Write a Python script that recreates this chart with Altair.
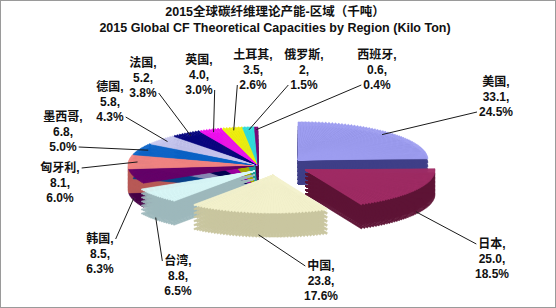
import math
import numpy as np
import pandas as pd
import altair as alt

# ---------------- data ----------------
regions = ["美国", "日本", "中国", "台湾", "韩国", "匈牙利", "墨西哥",
           "德国", "法国", "英国", "土耳其", "俄罗斯", "西班牙"]
capacity_text = ["33.1", "25.0", "23.8", "8.8", "8.5", "8.1", "6.8",
                 "5.8", "5.2", "4.0", "3.5", "2", "0.6"]
capacity = [float(v) for v in capacity_text]
title_lines = ["2015全球碳纤维理论产能-区域（千吨）",
               "2015 Global CF Theoretical Capacities by Region (Kilo Ton)"]

# ---------------- styles / layout ----------------
TOP_COLORS = ["#9D9DF0", "#A02C64", "#F3F1CC", "#D8F6F6", "#680068", "#F28482",
              "#0C64C8", "#C6C6EE", "#06067E", "#EE10EE", "#EEEE10", "#30DCDC", "#7A0A7A"]
SIDE_COLORS = ["#3F3F88", "#5E1436", "#C9C6A0", "#9DB8BC", "#470047", "#B85A58",
               "#07428A", "#8A8AB4", "#000050", "#A000A0", "#A8A800", "#1C9C9C", "#4A004A"]
CX, CY = 258, 165          # centre of the (non-exploded) pie
A, B = 130, 38             # half-axes of the tilted pie
DEPTH = 24                 # thickness of the 3-D pie
STEP = 1.5                 # angular step of the sub-wedges
EXPLODE = {"美国": (40, -5), "日本": (47, 5), "中国": (15, 10), "台湾": (-3, 6)}
LABEL_XY = {"美国": (496, 97), "日本": (492, 259), "中国": (321, 281), "台湾": (178, 276),
            "韩国": (100, 254), "匈牙利": (60, 183), "墨西哥": (63, 132), "德国": (110, 102),
            "法国": (143, 78), "英国": (199, 75), "土耳其": (253, 70), "俄罗斯": (304, 70),
            "西班牙": (377, 70)}
DRAW_ORDER = ["韩国", "匈牙利", "墨西哥", "德国", "法国", "英国", "土耳其", "俄罗斯",
              "西班牙", "美国", "台湾", "日本", "中国"]
LINE_H = 15
TITLE_Y = [12, 28]
FONT = "Liberation Sans, Arial, Noto Sans CJK SC"

total = sum(capacity)
cum = np.concatenate([[0.0], np.cumsum(capacity)])


def screen_angle(phi):
    if phi >= 360 - 1e-9:
        return 360.0
    p = math.radians(phi)
    s = math.degrees(math.atan2(A * math.sin(p), B * math.cos(p)))
    return s + 360 if s < 0 else s


def rim_radius(phi):
    p = math.radians(phi)
    return math.hypot(A * math.sin(p), B * math.cos(p))


def text_width(s):
    w = 0.0
    for c in s:
        if ord(c) > 0x2E80:
            w += 12
        elif c.isdigit():
            w += 6.67
        elif c == "%":
            w += 10.67
        else:
            w += 3.34
    return w


wedges = []
for i, name in enumerate(regions):
    f0, f1 = 360 * cum[i] / total, 360 * cum[i + 1] / total
    n = max(1, math.ceil((f1 - f0) / STEP))
    ex, ey = EXPLODE.get(name, (0, 0))
    for k in range(n):
        pa = f0 + (f1 - f0) * k / n
        pb = f0 + (f1 - f0) * (k + 1) / n
        ta, tb = screen_angle(pa), screen_angle(pb)
        if tb < ta:
            tb += 360
        wedges.append(dict(region=name, t0=ta, t1=tb, r=rim_radius((pa + pb) / 2),
                           cx=CX + ex, cy=CY + ey, order=DRAW_ORDER.index(name)))
top_df = pd.DataFrame(wedges).sort_values("order", kind="stable")

side_parts = []
for off in range(4, DEPTH + 1, 4):
    d = top_df.copy()
    d["cy"] = d["cy"] + off
    d["off"] = off
    side_parts.append(d)
side_df = pd.concat(side_parts).sort_values(["order", "off"], kind="stable")

labels = []
for i, name in enumerate(regions):
    f0, f1 = 360 * cum[i] / total, 360 * cum[i + 1] / total
    pm = (f0 + f1) / 2
    p = math.radians(pm)
    ex, ey = EXPLODE.get(name, (0, 0))
    front = 90 < pm < 270
    k = 1.0 if front else 0.93
    sx = CX + ex + k * A * math.sin(p)
    sy = CY + ey - k * B * math.cos(p) + (DEPTH - 2 if front else 0)
    lx, ly = LABEL_XY[name]
    pct = f"{100 * capacity[i] / total:.1f}%"
    lines = [f"{name},", f"{capacity_text[i]},", pct]
    use_top = sy < ly
    w = text_width(lines[0] if use_top else lines[2])
    endx = lx - w / 2 - 2 if sx < lx else lx + w / 2 + 2
    endy = ly - LINE_H if use_top else ly + LINE_H
    labels.append(dict(region=name, label="\n".join(lines), lx=lx, ly=ly,
                       first_y=ly - LINE_H, sx=sx, sy=sy, ex=endx, ey=endy))
label_df = pd.DataFrame(labels)
title_df = pd.DataFrame({"title": title_lines, "ty": TITLE_Y})

theta = alt.Theta("t0:Q", scale=alt.Scale(domain=[0, 360], range=[0, 2 * math.pi], nice=False, zero=False), stack=None)
theta2 = alt.Theta2("t1:Q")
radius = alt.Radius("r:Q", scale=None)
xc = alt.X("cx:Q", scale=None)
yc = alt.Y("cy:Q", scale=None)

sides = alt.Chart(side_df).mark_arc(strokeWidth=0.6).encode(
    theta=theta, theta2=theta2, radius=radius, x=xc, y=yc,
    fill=alt.Fill("region:N", scale=alt.Scale(domain=regions, range=SIDE_COLORS), legend=None),
    stroke=alt.Stroke("region:N", scale=alt.Scale(domain=regions, range=SIDE_COLORS), legend=None),
)
tops = alt.Chart(top_df).mark_arc(strokeWidth=0.6).encode(
    theta=theta, theta2=theta2, radius=radius, x=xc, y=yc,
    fill=alt.Fill("region:N", scale=alt.Scale(domain=regions, range=TOP_COLORS), legend=None),
    stroke=alt.Stroke("region:N", scale=alt.Scale(domain=regions, range=TOP_COLORS), legend=None),
)
leaders = alt.Chart(label_df).mark_rule(color="#1a1a1a", strokeWidth=1).encode(
    x=alt.X("sx:Q", scale=None), y=alt.Y("sy:Q", scale=None), x2="ex:Q", y2="ey:Q")
texts = alt.Chart(label_df).mark_text(
    lineBreak="\n", fontSize=12, fontWeight="bold", font=FONT, align="center",
    baseline="middle", lineHeight=LINE_H, color="#111111").encode(
    x=alt.X("lx:Q", scale=None), y=alt.Y("first_y:Q", scale=None), text="label:N")
titles = alt.Chart(title_df).mark_text(
    fontSize=12.5, fontWeight="bold", font=FONT, align="center", baseline="middle",
    color="#111111").encode(x=alt.value(275), y=alt.Y("ty:Q", scale=None), text="title:N")

chart = alt.layer(sides, tops, leaders, texts, titles).resolve_scale(
    fill="independent", stroke="independent"
).properties(
    width=556, height=308, padding=0,
    autosize=alt.AutoSizeParams(type="none"), background="white"
).configure_view(stroke="#9a9a9a", strokeWidth=2)

chart.save("out.html", embed_options={"renderer": "svg", "actions": False})
